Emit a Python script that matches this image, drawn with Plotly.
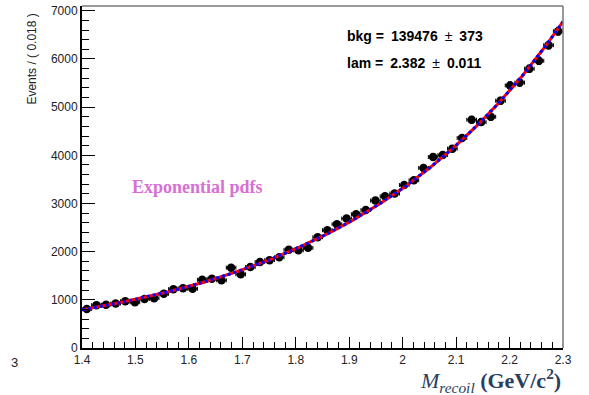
import numpy as np
import plotly.graph_objects as go

# Binned recoil-mass spectrum: 50 bins of width 0.018 GeV/c^2 from 1.4 to 2.3
x_lo, x_hi, bin_w = 1.4, 2.3, 0.018
bin_centers = [round(x_lo + bin_w * (i + 0.5), 4) for i in range(50)]
events = [
    810, 890, 900, 925, 970, 950, 1018, 1035, 1125, 1222,
    1240, 1230, 1415, 1437, 1405, 1668, 1530, 1680, 1785, 1824,
    1883, 2038, 2028, 2079, 2300, 2446, 2570, 2688, 2777, 2865,
    3060, 3150, 3206, 3382, 3482, 3738, 3965, 4007, 4139, 4360,
    4740, 4690, 4800, 5133, 5451, 5510, 5797, 5962, 6287, 6576,
]

# Fit result (exponential background)
bkg, bkg_err = 139476, 373
lam, lam_err = 2.382, 0.011

x_ticks = [1.4, 1.5, 1.6, 1.7, 1.8, 1.9, 2.0, 2.1, 2.2, 2.3]
x_tick_text = ["1.4", "1.5", "1.6", "1.7", "1.8", "1.9", "2", "2.1", "2.2", "2.3"]
y_ticks = [0, 1000, 2000, 3000, 4000, 5000, 6000, 7000]

# Normalised exponential pdf scaled to events per bin
xf = np.linspace(x_lo, x_hi, 400)
norm = lam / (np.exp(lam * x_hi) - np.exp(lam * x_lo))
yf = bkg * bin_w * norm * np.exp(lam * xf)

fig = go.Figure()

fig.add_trace(go.Scatter(
    x=bin_centers, y=events, mode="markers",
    marker=dict(color="black", size=8.5),
    error_y=dict(type="data", array=np.sqrt(events), color="black", thickness=1, width=2),
    error_x=dict(type="constant", value=bin_w / 2, color="black", thickness=1, width=2),
    hoverinfo="skip",
))
fig.add_trace(go.Scatter(
    x=xf, y=yf, mode="lines",
    line=dict(color="red", width=3),
    hoverinfo="skip",
))
fig.add_trace(go.Scatter(
    x=xf, y=yf, mode="lines",
    line=dict(color="blue", width=3, dash="3px,3px"),
    hoverinfo="skip",
))

sans = "Liberation Sans, Arial, sans-serif"
serif = "Liberation Serif, Times New Roman, serif"
pm = "\u2002±\u2002"

fig.update_layout(
    width=589, height=395,
    margin=dict(l=82, r=26, t=4, b=47),
    paper_bgcolor="white", plot_bgcolor="white",
    showlegend=False,
    font=dict(family=sans, size=12, color="#222"),
    xaxis=dict(
        range=[x_lo, x_hi], tickvals=x_ticks, ticktext=x_tick_text,
        ticks="inside", ticklen=11, tickwidth=1, tickcolor="black",
        minor=dict(ticks="inside", ticklen=6, dtick=0.02, tickcolor="black", tickwidth=1),
        showgrid=False, zeroline=False,
        showline=True, linecolor="black", linewidth=2,
        tickfont=dict(family=sans, size=12, color="#222"),
    ),
    yaxis=dict(
        range=[0, 7100], tickvals=y_ticks,
        ticks="inside", ticklen=13, tickwidth=1, tickcolor="black",
        minor=dict(ticks="inside", ticklen=7, dtick=200, tickcolor="black", tickwidth=1),
        showgrid=False, zeroline=False,
        showline=True, linecolor="black", linewidth=2,
        tickfont=dict(family=sans, size=12, color="#222"),
    ),
    shapes=[
        dict(type="line", xref="paper", yref="paper", x0=0, x1=1, y0=1, y1=1,
             line=dict(color="#777", width=1.5)),
        dict(type="line", xref="paper", yref="paper", x0=1, x1=1, y0=0, y1=1,
             line=dict(color="#777", width=1.5)),
    ],
    annotations=[
        dict(text="Events / ( 0.018 )", textangle=-90, xref="paper", yref="paper",
             x=-0.104, y=0.985, xanchor="center", yanchor="top", showarrow=False,
             font=dict(family=sans, size=12, color="#222")),
        dict(text="3", xref="paper", yref="paper", x=-0.141, y=-0.041,
             xanchor="center", yanchor="middle", showarrow=False,
             font=dict(family=sans, size=13, color="#222")),
        dict(text=f"<b>bkg =\u2002{bkg}</b>{pm}<b>{bkg_err}</b>", x=1.892, y=6484,
             xanchor="left", yanchor="middle", showarrow=False,
             font=dict(family=sans, size=14, color="black")),
        dict(text=f"<b>lam =\u2002{lam}</b>{pm}<b>{lam_err}</b>", x=1.892, y=5926,
             xanchor="left", yanchor="middle", showarrow=False,
             font=dict(family=sans, size=14, color="black")),
        dict(text="<b>Exponential pdfs</b>", x=1.490, y=3345,
             xanchor="left", yanchor="middle", showarrow=False,
             font=dict(family=serif, size=18, color="#d670d6")),
        dict(text="<i>M</i><sub><i>recoil</i></sub><b> (GeV/c<sup>2</sup>)</b>",
             xref="paper", yref="paper", x=1.0, y=-0.096,
             xanchor="right", yanchor="middle", showarrow=False,
             font=dict(family=serif, size=22, color="#2a3f5f")),
    ],
)

fig.write_html("out.html")
